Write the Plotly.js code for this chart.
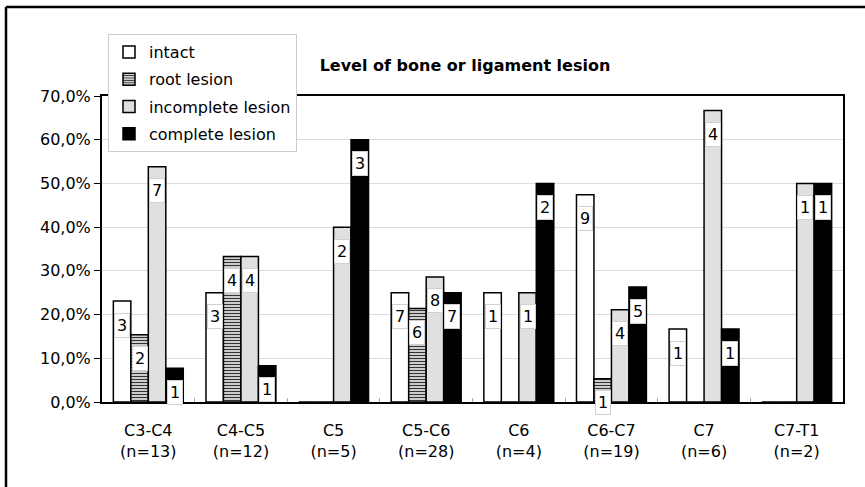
<!DOCTYPE html>
<html>
<head>
<meta charset="utf-8">
<script src="https://cdn.plot.ly/plotly-3.0.1.min.js"></script>
<style>
  html, body { margin: 0; padding: 0; background: #fff; }
  #chart { width: 865px; height: 487px; }
</style>
</head>
<body>
<div id="chart"></div>
<script>
// ---- data ----
const categories = ["C3-C4<br>(n=13)", "C4-C5<br>(n=12)", "C5<br>(n=5)", "C5-C6<br>(n=28)",
                    "C6<br>(n=4)", "C6-C7<br>(n=19)", "C7<br>(n=6)", "C7-T1<br>(n=2)"];
const seriesNames = ["intact", "root lesion", "incomplete lesion", "complete lesion"];
// percentages (fraction of group)
const intactPct     = [0.231, 0.250, 0.000, 0.250, 0.250, 0.474, 0.167, 0.000];
const rootPct       = [0.154, 0.333, 0.000, 0.214, 0.000, 0.053, 0.000, 0.000];
const incompletePct = [0.538, 0.333, 0.400, 0.286, 0.250, 0.211, 0.667, 0.500];
const completePct   = [0.077, 0.083, 0.600, 0.250, 0.500, 0.263, 0.167, 0.500];
// counts shown in the labels
const intactN     = [3, 3, 0, 7, 1, 9, 1, 0];
const rootN       = [2, 4, 0, 6, 0, 1, 0, 0];
const incompleteN = [7, 4, 2, 8, 1, 4, 4, 1];
const completeN   = [1, 1, 3, 7, 2, 5, 1, 1];
const yTicks = [0, 0.1, 0.2, 0.3, 0.4, 0.5, 0.6, 0.7];

// ---- layout geometry ----
const W = 865, H = 487;
const M = {l: 102, r: 22, t: 96, b: 85};
const bargap = 0.245;
const plotW = W - M.l - M.r;
const barW = plotW / categories.length * (1 - bargap) / 4;

const FONT = "DejaVu Sans, Arial, sans-serif";
const values = [intactPct, rootPct, incompletePct, completePct];
const counts = [intactN, rootN, incompleteN, completeN];
const styles = [
  {color: "#ffffff"},
  {color: "#ffffff", pattern: {shape: "-", fgcolor: "#333333", bgcolor: "#ffffff", size: 3, solidity: 0.5}},
  {color: "#e0e0e0"},
  {color: "#000000"}
];

const traces = seriesNames.map((name, i) => ({
  type: "bar",
  name: name,
  x: categories,
  y: values[i],
  legendgroup: "g" + i,
  marker: Object.assign({line: {color: "#000", width: 1.5}}, styles[i]),
  hoverinfo: "skip"
}));

const annotations = [];
values.forEach((vals, i) => {
  vals.forEach((v, j) => {
    if (counts[i][j] > 0) {
      annotations.push({
        x: categories[j], y: v, xref: "x", yref: "y",
        text: String(counts[i][j]),
        showarrow: false,
        xshift: (i - 1.5) * barW,
        yshift: -24,
        yanchor: "middle",
        bgcolor: "#ffffff",
        bordercolor: "#d0d0d0",
        borderwidth: 1,
        borderpad: 2,
        font: {family: FONT, size: 16, color: "#000"}
      });
    }
  });
});

const px2x = p => (p - M.l) / plotW;
const px2y = p => (H - M.b - p) / (H - M.t - M.b);

const layout = {
  width: W, height: H,
  margin: M,
  paper_bgcolor: "#fff",
  plot_bgcolor: "#fff",
  separators: ",.",
  barmode: "group",
  bargap: bargap,
  bargroupgap: 0,
  font: {family: FONT, size: 16, color: "#000"},
  title: {
    text: "<b>Level of bone or ligament lesion</b>",
    font: {family: FONT, size: 16, color: "#000"},
    xref: "paper", x: px2x(465), xanchor: "center",
    yref: "container", y: 1 - 65 / H, yanchor: "middle"
  },
  showlegend: true,
  legend: {
    x: px2x(108), y: px2y(34), xanchor: "left", yanchor: "top",
    bgcolor: "#fff", bordercolor: "#cccccc", borderwidth: 1,
    font: {family: FONT, size: 16, color: "#000"},
    traceorder: "grouped", tracegroupgap: 3.5
  },
  xaxis: {
    type: "category",
    showline: true, linecolor: "#000", linewidth: 2, mirror: true,
    ticks: "inside", tickson: "boundaries", ticklen: 4, tickcolor: "#aaaaaa",
    ticklabelstandoff: 13,
    tickfont: {family: FONT, size: 16, color: "#000"},
    showgrid: false, zeroline: false
  },
  yaxis: {
    range: [0, 0.7],
    tickvals: yTicks,
    tickformat: ".1%",
    showline: true, linecolor: "#000", linewidth: 2, mirror: true,
    ticks: "outside", ticklen: 6, tickcolor: "#000",
    tickfont: {family: FONT, size: 16, color: "#000"},
    showgrid: true, gridcolor: "#dcdcdc", gridwidth: 1,
    zeroline: false
  },
  annotations: annotations,
  shapes: [
    {type: "line", xref: "paper", yref: "paper", x0: px2x(6), x1: px2x(900), y0: px2y(7), y1: px2y(7),
     line: {color: "#000", width: 2.5}},
    {type: "line", xref: "paper", yref: "paper", x0: px2x(6), x1: px2x(6), y0: px2y(7), y1: px2y(520),
     line: {color: "#000", width: 2.5}}
  ]
};

Plotly.newPlot("chart", traces, layout, {displayModeBar: false, staticPlot: true});
</script>
</body>
</html>
